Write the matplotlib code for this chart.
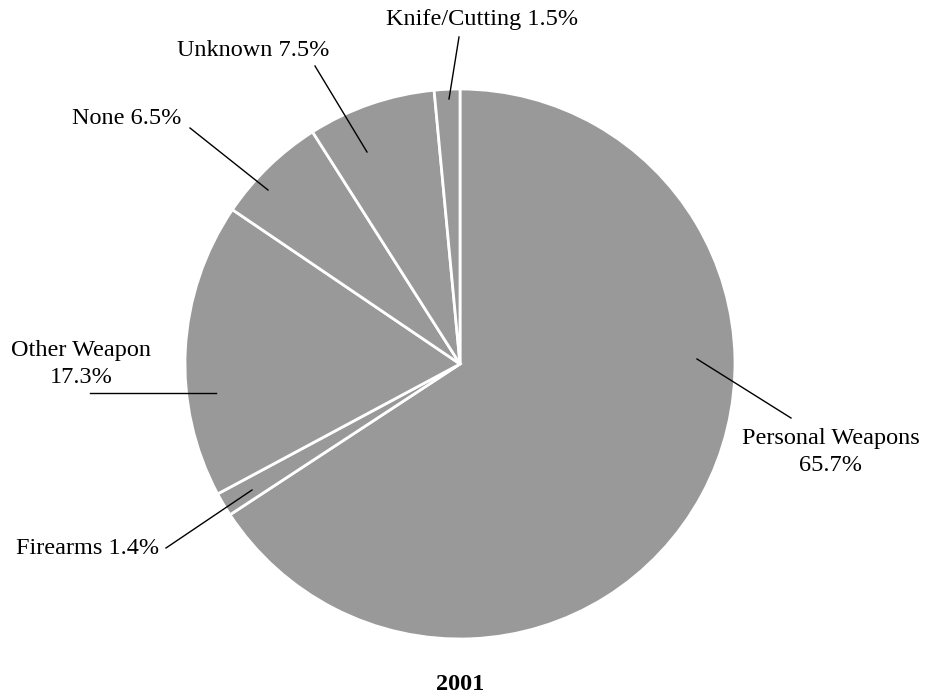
#!/usr/bin/env python3
#
# Pie chart of weapon types, 2001
# Outputs: out.png

import matplotlib.pyplot as plt

categories = ['Personal Weapons', 'Firearms', 'Other Weapon', 'None',
              'Unknown', 'Knife/Cutting']
percents = [65.7, 1.4, 17.3, 6.5, 7.5, 1.5]
label_text = ['Personal Weapons\n65.7%', 'Firearms 1.4%', 'Other Weapon\n17.3%',
              'None 6.5%', 'Unknown 7.5%', 'Knife/Cutting 1.5%']
title = '2001'

W, H = 942, 698

# label positions and leader lines, in pixels from the top-left corner
label_pos = [(831, 452), (88, 549), (81, 364), (127, 119), (253, 50), (482, 20)]
lines = [((697, 359), (791, 418)),
         ((252, 490), (166, 548)),
         ((216, 393), (90, 393)),
         ((268, 190), (190, 128)),
         ((367, 152), (315, 66)),
         ((449, 99), (459, 37))]


def px(p):
    return p[0], H - p[1]


def main():
    plt.rcParams['font.family'] = ['Liberation Serif', 'DejaVu Serif']

    fig = plt.figure(figsize=(W / 100, H / 100), dpi=100)
    ax = fig.add_axes([0, 0, 1, 1])

    ax.pie(percents, startangle=90, counterclock=False,
           center=px((460, 364)), radius=275, colors=['#999999'] * len(percents),
           wedgeprops=dict(edgecolor='white', linewidth=2))

    for txt, pos, (a, b) in zip(label_text, label_pos, lines):
        x, y = px(pos)
        ax.text(x, y, txt, ha='center', va='center', fontsize=17.5,
                linespacing=1.32)
        (x0, y0), (x1, y1) = px(a), px(b)
        ax.plot([x0, x1], [y0, y1], color='black', lw=1)

    x, y = px((460, 684))
    ax.text(x, y, title, ha='center', va='center', fontsize=17.5, fontweight='bold')

    ax.set_xlim(0, W)
    ax.set_ylim(0, H)
    ax.set_aspect('equal')
    ax.set_axis_off()

    fig.savefig('out.png', dpi=100, facecolor='white')


if __name__ == '__main__':
    main()
